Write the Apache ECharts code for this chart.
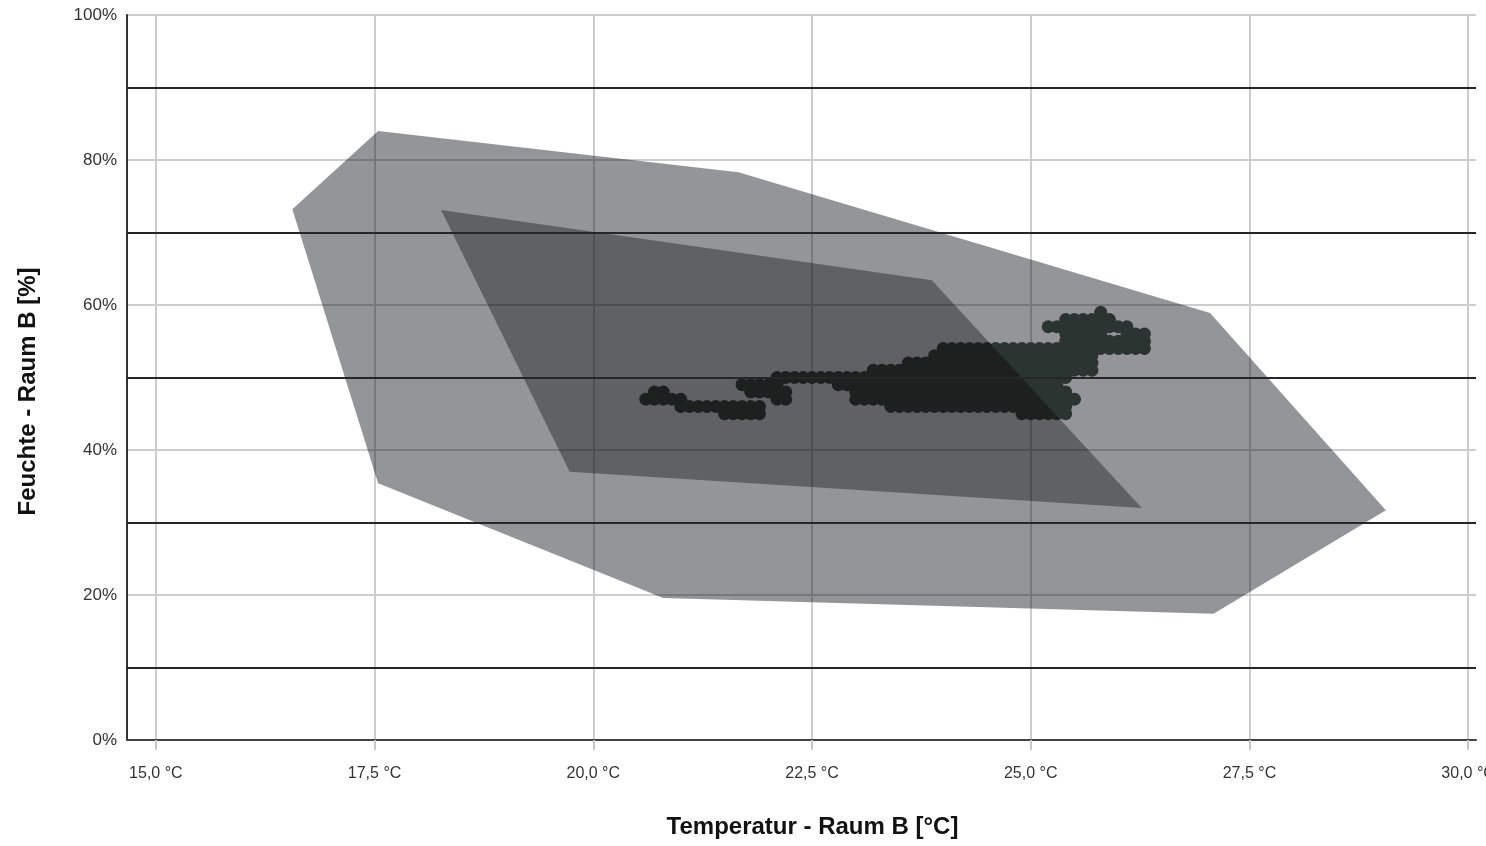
<!DOCTYPE html>
<html>
<head>
<meta charset="utf-8">
<script src="https://cdn.jsdelivr.net/npm/echarts@6/dist/echarts.min.js"></script>
<style>
  html, body { margin: 0; padding: 0; background: #fff; }
  #chart { width: 1486px; height: 846px; }
</style>
</head>
<body>
<div id="chart"></div>
<script>
// axis ticks
var xTicks = [15, 17.5, 20, 22.5, 25, 27.5, 30];
var refLines = [10, 30, 50, 70, 90];

// comfort zones [temp, humidity]
var outerZone = [[16.56, 73.2], [17.54, 84.0], [21.66, 78.3], [27.05, 58.9],
                 [29.06, 31.7], [27.09, 17.4], [20.80, 19.6], [17.54, 35.4]];
var innerZone = [[18.26, 73.1], [23.87, 63.4], [26.27, 32.0], [19.73, 37.0]];

// measured values, one row per humidity step: [humidity, [temps]]
var tailRows = [
  [48, [20.7, 20.8]],
  [47, [20.6, 20.7, 20.8, 20.9, 21.0]],
  [46, [21.0, 21.1, 21.2, 21.3, 21.4, 21.5, 21.6, 21.7, 21.8, 21.9]],
  [45, [21.5, 21.6, 21.7, 21.8, 21.9]]
];
var hookRows = [
  [49, [21.7, 21.8, 21.9, 22.0, 22.1]],
  [48, [21.8, 21.9, 22.0, 22.1, 22.2]],
  [47, [22.1, 22.2]]
];
var bodyRows = [
  [54, [24.0, 24.1, 24.2, 24.3, 24.4, 24.5, 24.6, 24.7, 24.8, 24.9, 25.0, 25.1, 25.2, 25.3, 25.4, 25.5, 25.6, 25.7, 25.8, 25.9, 26.0, 26.1, 26.2, 26.3]],
  [53, [23.9, 24.0, 24.1, 24.2, 24.3, 24.4, 24.5, 24.6, 24.7, 24.8, 24.9, 25.0, 25.1, 25.2, 25.3, 25.4, 25.5, 25.6, 25.7]],
  [52, [23.6, 23.7, 23.8, 23.9, 24.0, 24.1, 24.2, 24.3, 24.4, 24.5, 24.6, 24.7, 24.8, 24.9, 25.0, 25.1, 25.2, 25.3, 25.4, 25.5, 25.6, 25.7]],
  [51, [23.2, 23.3, 23.4, 23.5, 23.6, 23.7, 23.8, 23.9, 24.0, 24.1, 24.2, 24.3, 24.4, 24.5, 24.6, 24.7, 24.8, 24.9, 25.0, 25.1, 25.2, 25.3, 25.4, 25.5, 25.6, 25.7]],
  [50, [22.1, 22.2, 22.3, 22.4, 22.5, 22.6, 22.7, 22.8, 22.9, 23.0, 23.1, 23.2, 23.3, 23.4, 23.5, 23.6, 23.7, 23.8, 23.9, 24.0, 24.1, 24.2, 24.3, 24.4, 24.5, 24.6, 24.7, 24.8, 24.9, 25.0, 25.1, 25.2, 25.3, 25.4]],
  [49, [22.8, 22.9, 23.0, 23.1, 23.2, 23.3, 23.4, 23.5, 23.6, 23.7, 23.8, 23.9, 24.0, 24.1, 24.2, 24.3, 24.4, 24.5, 24.6, 24.7, 24.8, 24.9, 25.0, 25.1, 25.2, 25.3]],
  [48, [23.0, 23.1, 23.2, 23.3, 23.4, 23.5, 23.6, 23.7, 23.8, 23.9, 24.0, 24.1, 24.2, 24.3, 24.4, 24.5, 24.6, 24.7, 24.8, 24.9, 25.0, 25.1, 25.2, 25.3, 25.4]],
  [47, [23.0, 23.1, 23.2, 23.3, 23.4, 23.5, 23.6, 23.7, 23.8, 23.9, 24.0, 24.1, 24.2, 24.3, 24.4, 24.5, 24.6, 24.7, 24.8, 24.9, 25.0, 25.1, 25.2, 25.3, 25.4, 25.5]],
  [46, [23.4, 23.5, 23.6, 23.7, 23.8, 23.9, 24.0, 24.1, 24.2, 24.3, 24.4, 24.5, 24.6, 24.7, 24.8, 24.9, 25.0, 25.1, 25.2, 25.3, 25.4]],
  [45, [24.9, 25.0, 25.1, 25.2, 25.3, 25.4]]
];
var topRows = [
  [59, [25.8]],
  [58, [25.4, 25.5, 25.6, 25.7, 25.8, 25.9]],
  [57, [25.2, 25.3, 25.4, 25.5, 25.6, 25.7, 25.8, 25.9, 26.0, 26.1]],
  [56, [25.4, 25.5, 25.6, 25.7, 25.8, 26.1, 26.2, 26.3]],
  [55, [25.4, 25.5, 25.6, 25.7, 25.8, 25.9, 26.0, 26.1, 26.2, 26.3]]
];

var points = [];
[tailRows, hookRows, bodyRows, topRows].forEach(function (rows) {
  rows.forEach(function (r) {
    r[1].forEach(function (t) { points.push([t, r[0]]); });
  });
});

function zone(pts, fill, z) {
  return {
    type: 'custom',
    silent: true,
    z: z,
    data: pts,
    renderItem: function (params, api) {
      if (params.dataIndex !== 0) return;
      return {
        type: 'polygon',
        shape: { points: pts.map(function (p) { return api.coord(p); }) },
        style: { fill: fill }
      };
    }
  };
}

var fontFam = '"Liberation Sans", Arial, sans-serif';
var chart = echarts.init(document.getElementById('chart'));
chart.setOption({
  animation: false,
  grid: { left: 127, right: 10, top: 15, bottom: 106, outerBoundsMode: 'none', containLabel: false },
  xAxis: {
    type: 'value', min: 14.67, max: 30.09,
    name: 'Temperatur - Raum B [°C]',
    nameLocation: 'middle', nameGap: 75,
    nameTextStyle: { fontSize: 24, fontWeight: 'bold', color: '#111', fontFamily: fontFam, padding: [0, 0, 0, 22] },
    axisLine: { lineStyle: { color: '#444', width: 2 } },
    axisTick: { customValues: xTicks, length: 10, lineStyle: { color: '#c8c8c8', width: 2 } },
    axisLabel: {
      customValues: xTicks, margin: 26, fontSize: 16, color: '#333', fontFamily: fontFam,
      formatter: function (v) { return v.toFixed(1).replace('.', ',') + ' °C'; }
    },
    splitLine: { show: true, lineStyle: { color: '#cdcdcd', width: 2 } }
  },
  yAxis: {
    type: 'value', min: 0, max: 100, interval: 20,
    name: 'Feuchte - Raum B [%]',
    nameLocation: 'middle', nameGap: 87,
    nameTextStyle: { fontSize: 24, fontWeight: 'bold', color: '#111', fontFamily: fontFam, padding: [0, 28, 0, 0] },
    axisLine: { show: true, lineStyle: { color: '#333', width: 2 } },
    axisTick: { show: false },
    axisLabel: { fontSize: 17, color: '#333', margin: 10, fontFamily: fontFam, formatter: '{value}%' },
    splitLine: { show: true, lineStyle: { color: '#cdcdcd', width: 2 } }
  },
  series: [
    zone(outerZone, 'rgba(8, 10, 18, 0.43)', 1),
    {
      type: 'scatter',
      z: 2,
      data: points,
      symbolSize: 13,
      itemStyle: { color: 'rgb(44, 52, 49)', opacity: 1 },
      silent: true
    },
    zone(innerZone, 'rgba(0, 0, 0, 0.35)', 3),
    {
      type: 'scatter',
      z: 4,
      data: [],
      silent: true,
      markLine: {
        silent: true,
        symbol: 'none',
        label: { show: false },
        lineStyle: { color: '#262626', width: 2, type: 'solid' },
        data: refLines.map(function (v) { return { yAxis: v }; })
      }
    }
  ]
});
</script>
</body>
</html>
